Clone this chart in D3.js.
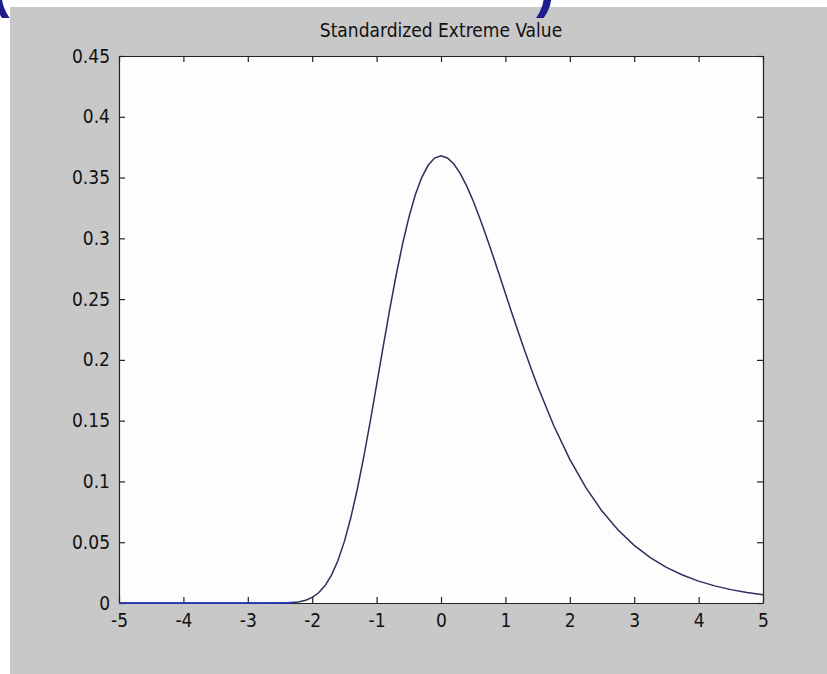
<!DOCTYPE html>
<html>
<head>
<meta charset="utf-8">
<script src="https://cdn.jsdelivr.net/npm/d3@7"></script>
<style>
  body { margin: 0; background: #ffffff; }
  svg { display: block; }
  .lbl, .tick text { font-family: "DejaVu Sans Condensed", "DejaVu Sans", sans-serif; font-stretch: condensed; fill: #111; }
  .tick text { font-size: 19px; }
</style>
</head>
<body>
<svg id="chart" width="827" height="674"></svg>
<script>
// values (finer spacing where the curve bends)
var xValues = [-5, -4.5, -4, -3.5, -3, -2.5, -2.4, -2.3, -2.2, -2.1,
  -2, -1.9, -1.8, -1.7, -1.6, -1.5, -1.4, -1.3, -1.2, -1.1,
  -1, -0.9, -0.8, -0.7, -0.6, -0.5, -0.4, -0.3, -0.2, -0.1,
  0, 0.1, 0.2, 0.3, 0.4, 0.5, 0.6, 0.7, 0.8, 0.9,
  1, 1.1, 1.2, 1.3, 1.4, 1.5, 1.75, 2, 2.25, 2.5,
  2.75, 3, 3.25, 3.5, 3.75, 4, 4.25, 4.5, 4.75, 5];
var density = [0, 0, 0, 0, 0, 0.0001, 0.0002, 0.0005, 0.0011, 0.0023,
  0.0046, 0.0084, 0.0143, 0.023, 0.035, 0.0507, 0.0703, 0.0936, 0.12, 0.149,
  0.1794, 0.2102, 0.2404, 0.2688, 0.2946, 0.317, 0.3356, 0.35, 0.3601, 0.366,
  0.3679, 0.3661, 0.3611, 0.3532, 0.3429, 0.3307, 0.317, 0.3022, 0.2867, 0.2708,
  0.2546, 0.2386, 0.2229, 0.2075, 0.1927, 0.1785, 0.146, 0.1182, 0.0949, 0.0756,
  0.06, 0.0474, 0.0373, 0.0293, 0.023, 0.018, 0.0141, 0.011, 0.0086, 0.0067];
var xTicks = [-5, -4, -3, -2, -1, 0, 1, 2, 3, 4, 5];
var yTicks = [0, 0.05, 0.1, 0.15, 0.2, 0.25, 0.3, 0.35, 0.4, 0.45];
var chartTitle = "Standardized Extreme Value";

var points = xValues.map(function(x, i) { return {x: x, y: density[i]}; });

var svg = d3.select("#chart");
// plot box edges (note: "top" is reserved on window, so use pTop etc.)
var pLeft = 119, pRight = 763, pTop = 56, pBottom = 603;

// grey figure background
svg.append("rect")
  .attr("x", 10).attr("y", 7)
  .attr("width", 827 - 10).attr("height", 674 - 7)
  .attr("fill", "#c8c8c8");

// cropped slide heading above the figure, only its lower edge shows
svg.append("text")
  .attr("x", -9).attr("y", 6)
  .attr("font-family", "Liberation Sans, sans-serif")
  .attr("font-weight", "bold")
  .attr("font-size", 56)
  .attr("fill", "#1d1d8f")
  .text("(");
svg.append("text")
  .attr("x", 536).attr("y", 6)
  .attr("font-family", "Liberation Sans, sans-serif")
  .attr("font-weight", "bold")
  .attr("font-size", 56)
  .attr("fill", "#1d1d8f")
  .text(")");

svg.append("rect")
  .attr("x", pLeft).attr("y", pTop)
  .attr("width", pRight - pLeft).attr("height", pBottom - pTop)
  .attr("fill", "#fdfdfd");

var x = d3.scaleLinear().domain([-5, 5]).range([pLeft, pRight]);
var y = d3.scaleLinear().domain([0, 0.45]).range([pBottom, pTop]);

var line = d3.line()
  .x(function(d) { return x(d.x); })
  .y(function(d) { return y(d.y); });

svg.append("path")
  .datum(points)
  .attr("fill", "none")
  .attr("stroke", "#2e2e5c")
  .attr("stroke-width", 1.5)
  .attr("d", line);

function styleAxis(g) {
  g.selectAll(".domain").attr("stroke", "#222").attr("stroke-width", 1.2);
  g.selectAll(".tick line").attr("stroke", "#222").attr("stroke-width", 1.2);
}

var fmt = function(d) { return String(d); };

svg.append("g")
  .attr("transform", "translate(0," + pBottom + ")")
  .call(d3.axisBottom(x).tickValues(xTicks).tickFormat(fmt)
    .tickSize(-6).tickSizeOuter(0).tickPadding(11))
  .call(styleAxis);

svg.append("g")
  .attr("transform", "translate(0," + pTop + ")")
  .call(d3.axisTop(x).tickValues(xTicks).tickFormat("")
    .tickSize(-6).tickSizeOuter(0))
  .call(styleAxis);

svg.append("g")
  .attr("transform", "translate(" + pLeft + ",0)")
  .call(d3.axisLeft(y).tickValues(yTicks).tickFormat(fmt)
    .tickSize(-6).tickSizeOuter(0).tickPadding(9))
  .call(styleAxis);

svg.append("g")
  .attr("transform", "translate(" + pRight + ",0)")
  .call(d3.axisRight(y).tickValues(yTicks).tickFormat("")
    .tickSize(-6).tickSizeOuter(0))
  .call(styleAxis);

// flat zero stretch shows in bright blue over the axis
var flat = points.filter(function(d) { return d.y < 0.001; });
svg.append("path")
  .datum(flat)
  .attr("fill", "none")
  .attr("stroke", "#2c3cc8")
  .attr("stroke-width", 1.6)
  .attr("d", line);

svg.append("text")
  .attr("class", "lbl")
  .attr("x", (pLeft + pRight) / 2)
  .attr("y", 37)
  .attr("text-anchor", "middle")
  .attr("font-size", 19)
  .text(chartTitle);
</script>
</body>
</html>
